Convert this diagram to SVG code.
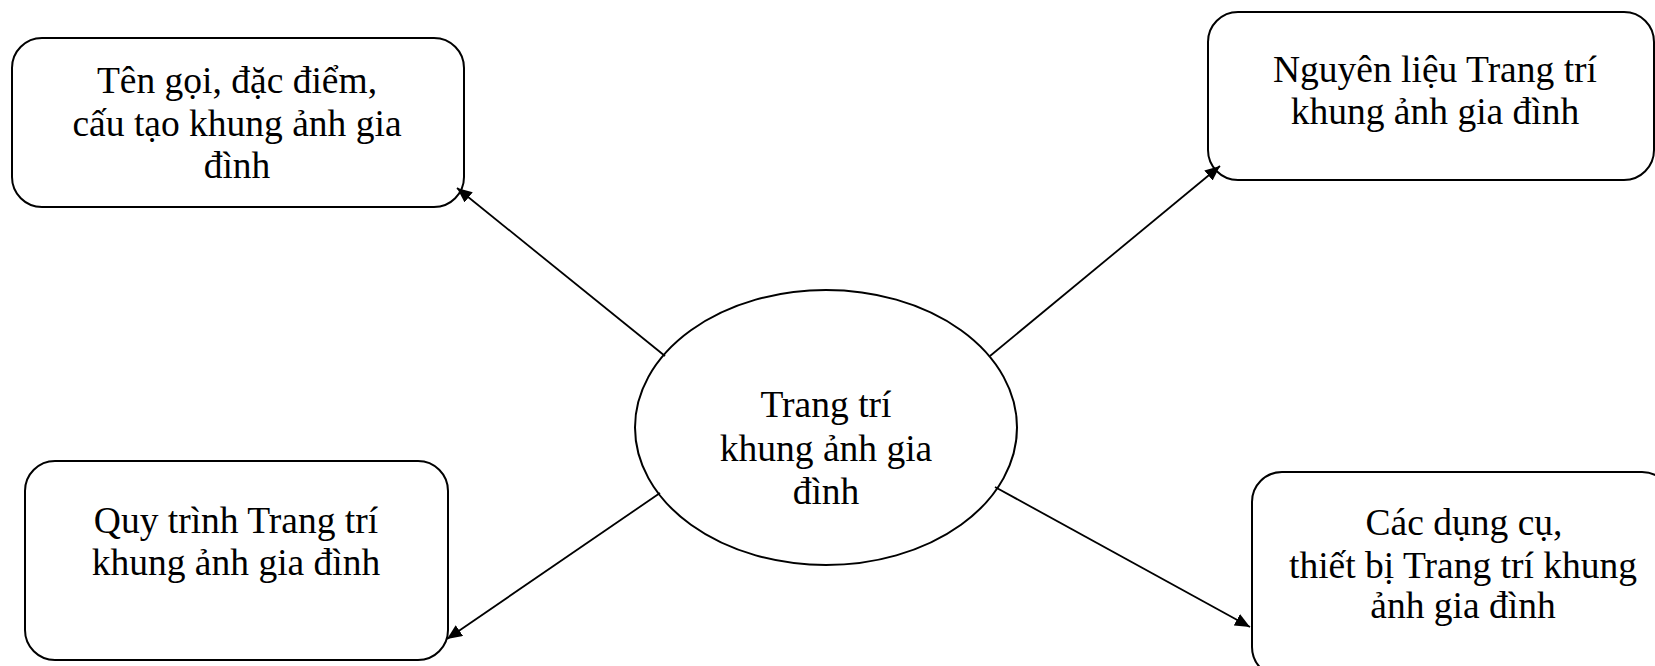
<svg xmlns="http://www.w3.org/2000/svg" width="1655" height="666" viewBox="0 0 1655 666">
<defs>
<style>
.box{fill:#fff;stroke:#000;stroke-width:2}
.lbl{font-family:"Liberation Serif","Times New Roman",serif;font-size:37.5px;fill:#000;text-anchor:middle}
.conn{stroke:#000;stroke-width:1.8;fill:none}
</style>
<marker id="arr" viewBox="0 0 15 13" refX="15" refY="6.5" markerWidth="15" markerHeight="13" markerUnits="userSpaceOnUse" orient="auto">
<path d="M0,0 L15,6.5 L0,13 Z" fill="#000"/>
</marker>
</defs>
<rect width="1655" height="666" fill="#fff"/>
<g id="n1">
<rect class="box" x="12" y="38" width="452" height="169" rx="30"/>
<text class="lbl" x="237" y="93">Tên gọi, đặc điểm,</text>
<text class="lbl" x="237" y="136">cấu tạo khung ảnh gia</text>
<text class="lbl" x="237" y="178">đình</text>
</g>
<g id="n2">
<rect class="box" x="1208" y="12" width="446" height="168" rx="30"/>
<text class="lbl" x="1435" y="82">Nguyên liệu Trang trí</text>
<text class="lbl" x="1435" y="124">khung ảnh gia đình</text>
</g>
<g id="n3">
<rect class="box" x="25" y="461" width="423" height="199" rx="30"/>
<text class="lbl" x="236" y="533">Quy trình Trang trí</text>
<text class="lbl" x="236" y="575">khung ảnh gia đình</text>
</g>
<g id="n4">
<rect class="box" x="1252" y="472" width="420" height="205" rx="30"/>
<text class="lbl" x="1464" y="535">Các dụng cụ,</text>
<text class="lbl" x="1463" y="578">thiết bị Trang trí khung</text>
<text class="lbl" x="1463" y="618">ảnh gia đình</text>
</g>
<g id="center">
<ellipse class="box" cx="826" cy="427.5" rx="191" ry="137.5"/>
<text class="lbl" x="826" y="417">Trang trí</text>
<text class="lbl" x="826" y="461">khung ảnh gia</text>
<text class="lbl" x="826" y="504">đình</text>
</g>
<g id="connectors">
<line class="conn" x1="665" y1="356" x2="457" y2="188" marker-end="url(#arr)"/>
<line class="conn" x1="990" y1="356" x2="1220" y2="166" marker-end="url(#arr)"/>
<line class="conn" x1="660" y1="493" x2="447" y2="639" marker-end="url(#arr)"/>
<line class="conn" x1="995" y1="487" x2="1250" y2="627" marker-end="url(#arr)"/>
</g>
</svg>
